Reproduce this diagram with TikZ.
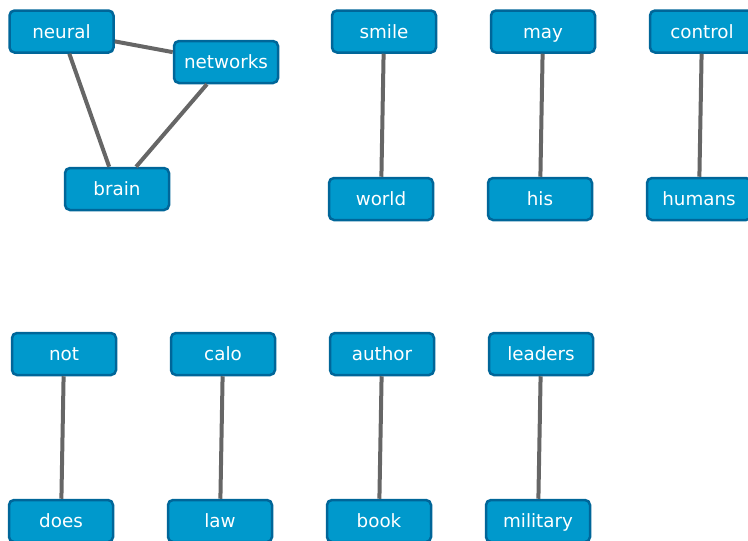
\documentclass[tikz,border=0pt]{standalone}
\usepackage{fontspec}
\setmainfont{DejaVu Sans}
\usepackage{tikz}

\definecolor{motbleu}{HTML}{0099CC}
\definecolor{bordbleu}{HTML}{006699}
\definecolor{liengris}{HTML}{666666}

\tikzset{
  mot/.style={draw=bordbleu, fill=motbleu, line width=2.5pt, rounded corners=5pt,
    minimum width=104pt, minimum height=42pt, text=white, inner sep=0pt,
    text height=13pt, text depth=0pt,
    font=\fontsize{18.3}{20}\selectfont},
  lien/.style={draw=liengris, line width=4pt}
}

\begin{document}
\begin{tikzpicture}[x=1pt, y=-1pt]

% Cadre de l'image
\useasboundingbox (0,0) rectangle (748,541);

% Groupe en triangle
\node[mot] (neural) at (61.5,31.5) {neural};
\node[mot] (networks) at (226,62) {networks};
\node[mot] (brain) at (117,189) {brain};

% Paires du haut
\node[mot] (smile) at (384,31.5) {smile};
\node[mot] (world) at (381,199) {world};
\node[mot] (may) at (543,31.5) {may};
\node[mot] (his) at (540,199) {his};
\node[mot] (control) at (702,31.5) {control};
\node[mot] (humans) at (699,199) {humans};

% Paires du bas
\node[mot] (not) at (64,354) {not};
\node[mot] (does) at (61,521) {does};
\node[mot] (calo) at (223,354) {calo};
\node[mot] (law) at (220,521) {law};
\node[mot] (author) at (382,354) {author};
\node[mot] (book) at (379,521) {book};
\node[mot] (leaders) at (541,354) {leaders};
\node[mot] (military) at (538,521) {military};

% Liens
\draw[lien] (neural) -- (networks);
\draw[lien] (neural) -- (brain);
\draw[lien] (networks) -- (brain);
\draw[lien] (smile) -- (world);
\draw[lien] (may) -- (his);
\draw[lien] (control) -- (humans);
\draw[lien] (not) -- (does);
\draw[lien] (calo) -- (law);
\draw[lien] (author) -- (book);
\draw[lien] (leaders) -- (military);

\end{tikzpicture}
\end{document}
